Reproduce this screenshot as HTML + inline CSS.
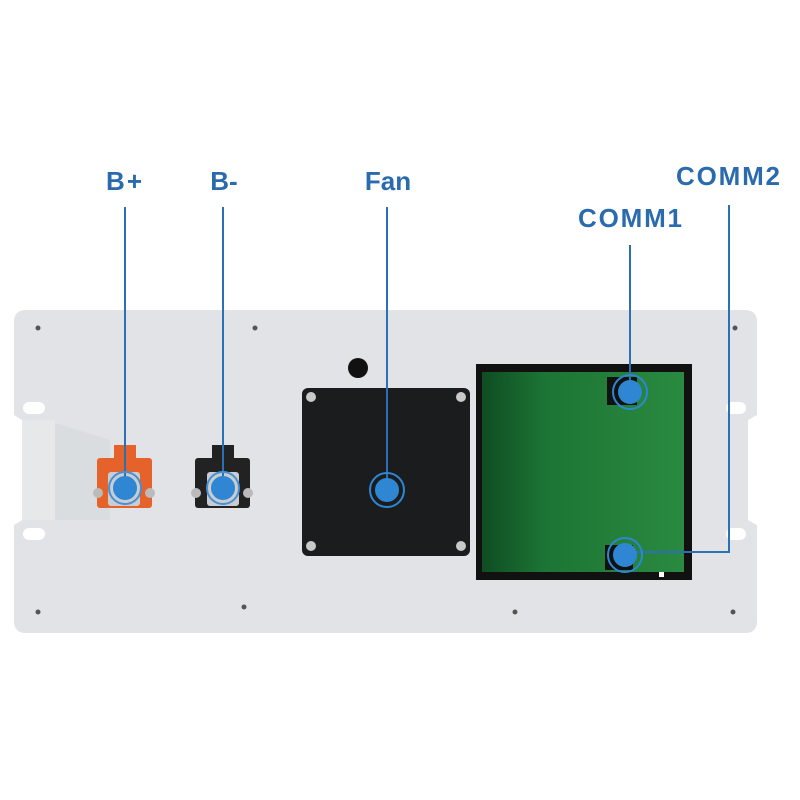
<!DOCTYPE html>
<html><head><style>body{margin:0;background:#fff}svg{display:block}</style></head><body>
<svg width="800" height="800" viewBox="0 0 800 800" xmlns="http://www.w3.org/2000/svg">
<defs>
<linearGradient id="g" x1="0" x2="1"><stop offset="0" stop-color="#0f4d22"/><stop offset="0.3" stop-color="#1c7434"/><stop offset="1" stop-color="#2a8a40"/></linearGradient>
</defs>
<path d="M26,310 H745 Q757,310 757,322 V415 L748,420 V520 L757,525 V621 Q757,633 745,633 H26 Q14,633 14,621 V525 L22,520 V420 L14,415 V322 Q14,310 26,310 Z" fill="#e1e3e6"/>
<path d="M22,420 H55 V520 H22 Z" fill="#e6e8ea"/>
<path d="M55,423 L110,440 L110,520 L55,520Z" fill="#dadde0"/>
<rect x="23" y="402" width="22" height="12" rx="6" fill="#fff"/>
<rect x="23" y="528" width="22" height="12" rx="6" fill="#fff"/>
<rect x="726" y="402" width="20" height="12" rx="6" fill="#fff"/>
<rect x="726" y="528" width="20" height="12" rx="6" fill="#fff"/>
<g fill="#555"><circle cx="38" cy="328" r="2.5"/><circle cx="255" cy="328" r="2.5"/><circle cx="735" cy="328" r="2.5"/><circle cx="38" cy="612" r="2.5"/><circle cx="244" cy="607" r="2.5"/><circle cx="515" cy="612" r="2.5"/><circle cx="733" cy="612" r="2.5"/></g>
<circle cx="358" cy="368" r="10" fill="#111"/>
<rect x="302" y="388" width="168" height="168" rx="6" fill="#1b1c1e"/>
<g fill="#c9c9c9"><circle cx="311" cy="397" r="5"/><circle cx="461" cy="397" r="5"/><circle cx="311" cy="546" r="5"/><circle cx="461" cy="546" r="5"/></g>
<rect x="476" y="364" width="216" height="216" fill="#111"/>
<rect x="482" y="372" width="202" height="200" fill="url(#g)"/>
<rect x="607" y="377" width="30" height="28" fill="#111"/>
<rect x="605" y="545" width="28" height="25" fill="#111"/>
<rect x="659" y="572" width="5" height="5" fill="#fff"/>
<rect x="97" y="458" width="55" height="50" rx="3" fill="#e5622a"/>
<rect x="114" y="445" width="22" height="15" fill="#e5622a"/>
<circle cx="98" cy="493" r="5" fill="#bbb"/><circle cx="150" cy="493" r="5" fill="#bbb"/>
<rect x="108" y="472" width="32" height="34" rx="3" fill="#c8cdd3"/>
<rect x="195" y="458" width="55" height="50" rx="3" fill="#222"/>
<rect x="212" y="445" width="22" height="15" fill="#222"/>
<circle cx="196" cy="493" r="5" fill="#bbb"/><circle cx="248" cy="493" r="5" fill="#bbb"/>
<rect x="207" y="472" width="32" height="34" rx="3" fill="#c8cdd3"/>
<g stroke="#2d6fb3" stroke-width="2" fill="none">
<path d="M125,207 V488"/><path d="M223,207 V488"/><path d="M387,207 V490"/><path d="M630,245 V392"/><path d="M729,205 V552 H625"/>
</g>
<g fill="#2f86d2" stroke="#2f86d2" stroke-width="2">
<g><circle cx="125" cy="488" r="16" fill="none" stroke="#4a8fd0"/><circle cx="125" cy="488" r="11"/></g>
<g><circle cx="223" cy="488" r="16" fill="none" stroke="#4a8fd0"/><circle cx="223" cy="488" r="11"/></g>
<g><circle cx="387" cy="490" r="17" fill="none"/><circle cx="387" cy="490" r="11"/></g>
<g><circle cx="630" cy="392" r="17" fill="none"/><circle cx="630" cy="392" r="11"/></g>
<g><circle cx="625" cy="555" r="17" fill="none"/><circle cx="625" cy="555" r="11"/></g>
</g>
<g font-family="Liberation Sans, sans-serif" font-weight="bold" font-size="26" fill="#2a6bae" text-anchor="middle">
<text x="124" y="190" textLength="36">B+</text><text x="224" y="190">B-</text><text x="388" y="190">Fan</text>
<text x="630" y="227" textLength="104">COMM1</text><text x="728" y="185" textLength="104">COMM2</text>
</g>
</svg>
</body></html>
